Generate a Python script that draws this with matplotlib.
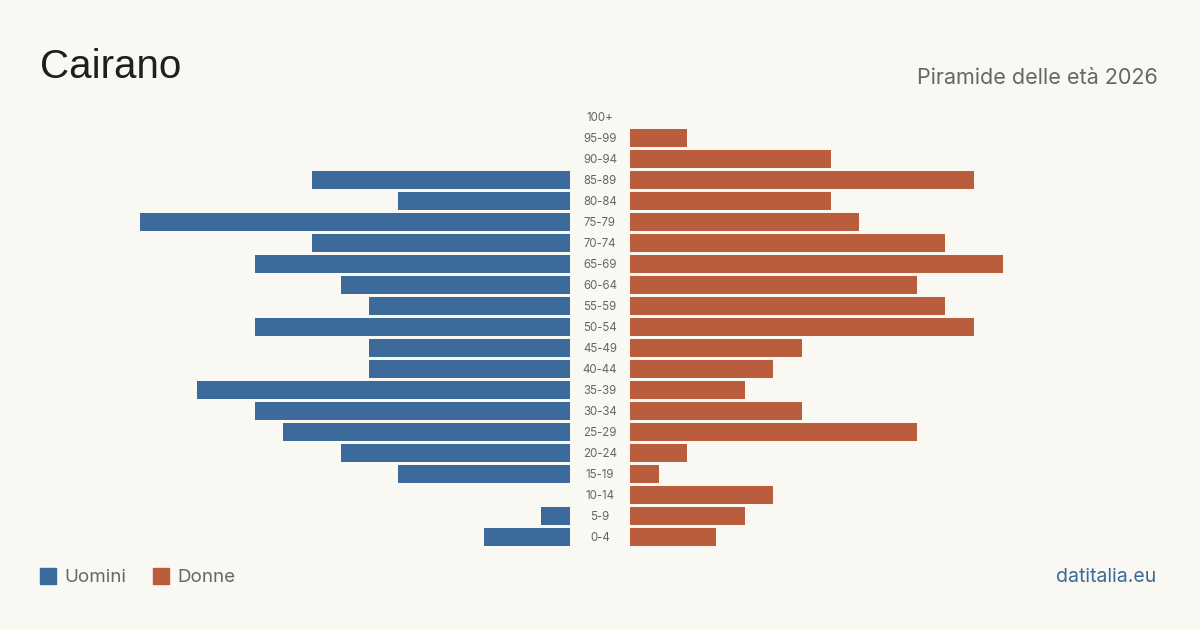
import matplotlib
matplotlib.use("Agg")
import matplotlib.pyplot as plt
from matplotlib.patches import Rectangle

# age classes from youngest to oldest
age_groups = ["0-4", "5-9", "10-14", "15-19", "20-24", "25-29", "30-34", "35-39",
              "40-44", "45-49", "50-54", "55-59", "60-64", "65-69", "70-74",
              "75-79", "80-84", "85-89", "90-94", "95-99", "100+"]
men = [3, 1, 0, 6, 8, 10, 11, 13, 7, 7, 11, 7, 8, 11, 9, 15, 6, 9, 0, 0, 0]
women = [3, 4, 5, 1, 2, 10, 6, 4, 5, 6, 12, 11, 10, 13, 11, 8, 7, 12, 7, 2, 0]

BG = "#f9f8f3"
MEN_COL = "#3b6a9b"
WOMEN_COL = "#b95d3d"
GREY = "#666666"

W, H = 1200, 630
px_per_unit = 28.67
half_gap = 30 / px_per_unit

fig = plt.figure(figsize=(W / 100, H / 100), dpi=100, facecolor=BG)
ax = fig.add_axes([0, 0, 1, 1])
ax.set_facecolor(BG)
ax.set_xlim(-600 / px_per_unit, 600 / px_per_unit)
# row 0 centred at y=537 px from top, 21 px between rows
ax.set_ylim((537 - 630) / 21, 537 / 21)
ax.axis("off")

ypos = list(range(len(age_groups)))
ax.barh(ypos, [-m for m in men], left=-half_gap, height=0.81, color=MEN_COL)
ax.barh(ypos, women, left=half_gap, height=0.81, color=WOMEN_COL)

for y, lab in zip(ypos, age_groups):
    ax.text(0, y - 0.03, lab, ha="center", va="center", fontsize=8.3,
            color=GREY, family="Inter")

fig.text(40 / W, 1 - 67 / H, "Cairano", fontsize=29, color="#1f1f1f",
         family="Liberation Sans", va="center", ha="left")
fig.text(1158 / W, 1 - 78 / H, "Piramide delle età 2026", fontsize=15.5,
         color=GREY, family="Inter", va="center", ha="right")

# legend
fig.patches.append(Rectangle((40 / W, 1 - 584 / H), 16 / W, 16 / H,
                             transform=fig.transFigure, color=MEN_COL))
fig.text(64 / W, 1 - 577.5 / H, "Uomini", fontsize=13.5, color=GREY,
         family="Inter", va="center", ha="left")
fig.patches.append(Rectangle((153 / W, 1 - 584 / H), 16 / W, 16 / H,
                             transform=fig.transFigure, color=WOMEN_COL))
fig.text(177 / W, 1 - 577.5 / H, "Donne", fontsize=13.5, color=GREY,
         family="Inter", va="center", ha="left")

fig.text(1156 / W, 1 - 577.5 / H, "datitalia.eu", fontsize=14, color=MEN_COL,
         family="Inter", va="center", ha="right")

fig.savefig("out.png", dpi=100, facecolor=BG)
